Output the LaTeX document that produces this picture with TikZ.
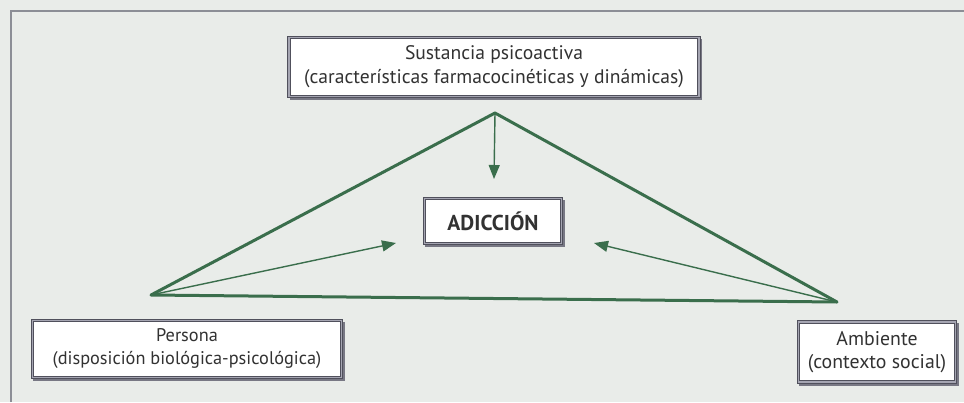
\documentclass[tikz,border=0pt]{standalone}
\usepackage{fontspec}
\setmainfont{PT Sans}
\usetikzlibrary{arrows.meta}
\definecolor{bgcol}{RGB}{233,236,233}
\definecolor{framecol}{RGB}{140,142,150}
\definecolor{lgreen}{RGB}{58,110,76}
\definecolor{boxedge}{RGB}{80,80,92}
\definecolor{boxmid}{RGB}{165,165,178}
\definecolor{boxshadow}{RGB}{120,120,132}
\definecolor{txt}{RGB}{50,50,50}
\begin{document}
\begin{tikzpicture}[x=1pt,y=-1pt,
  box/.style={draw=boxedge, line width=0.9pt, double=boxmid, double distance=1.6pt,
    fill=white, align=center, inner sep=0pt, text=txt,
    preaction={draw=boxshadow, line width=2.6pt, fill=boxshadow, transform canvas={shift={(2pt,-2.5pt)}}}},
  side/.style={draw=lgreen, line width=3pt, line join=round, line cap=round},
  arr/.style={draw=lgreen, line width=1.4pt, -{Triangle[length=14pt,width=11pt]}}]
\useasboundingbox (0,0) rectangle (964,402);
\fill[bgcol] (0,0) rectangle (964,402);
\draw[framecol, line width=1.4pt] (11,402) -- (11,11) -- (964,11);

\coordinate (apex) at (495,113);
\coordinate (lv) at (151,295);
\coordinate (rv) at (837,302);
\coordinate (ta) at (494,179);
\coordinate (la) at (396,243);
\coordinate (ra) at (594,243);

\draw[side] (apex) -- (lv) -- (rv) -- cycle;
\draw[arr] (apex) -- (ta);
\draw[arr] (lv) -- (la);
\draw[arr] (rv) -- (ra);

\node[box, minimum width=410pt, minimum height=59pt, font=\fontsize{19.6}{24}\selectfont] (sus) at (494,67)
  {Sustancia psicoactiva\\(características farmacocinéticas y dinámicas)};
\node[box, minimum width=137pt, minimum height=45pt, font=\fontsize{21.5}{24}\selectfont\bfseries] (adi) at (493,221) {ADICCIÓN};
\node[box, minimum width=309pt, minimum height=57pt, font=\fontsize{18.3}{23}\selectfont] (per) at (187,349)
  {Persona\\(disposición biológica-psicológica)};
\node[box, minimum width=157pt, minimum height=60pt, font=\fontsize{19.8}{23}\selectfont] (amb) at (877,352)
  {Ambiente\\(contexto social)};
\end{tikzpicture}
\end{document}
